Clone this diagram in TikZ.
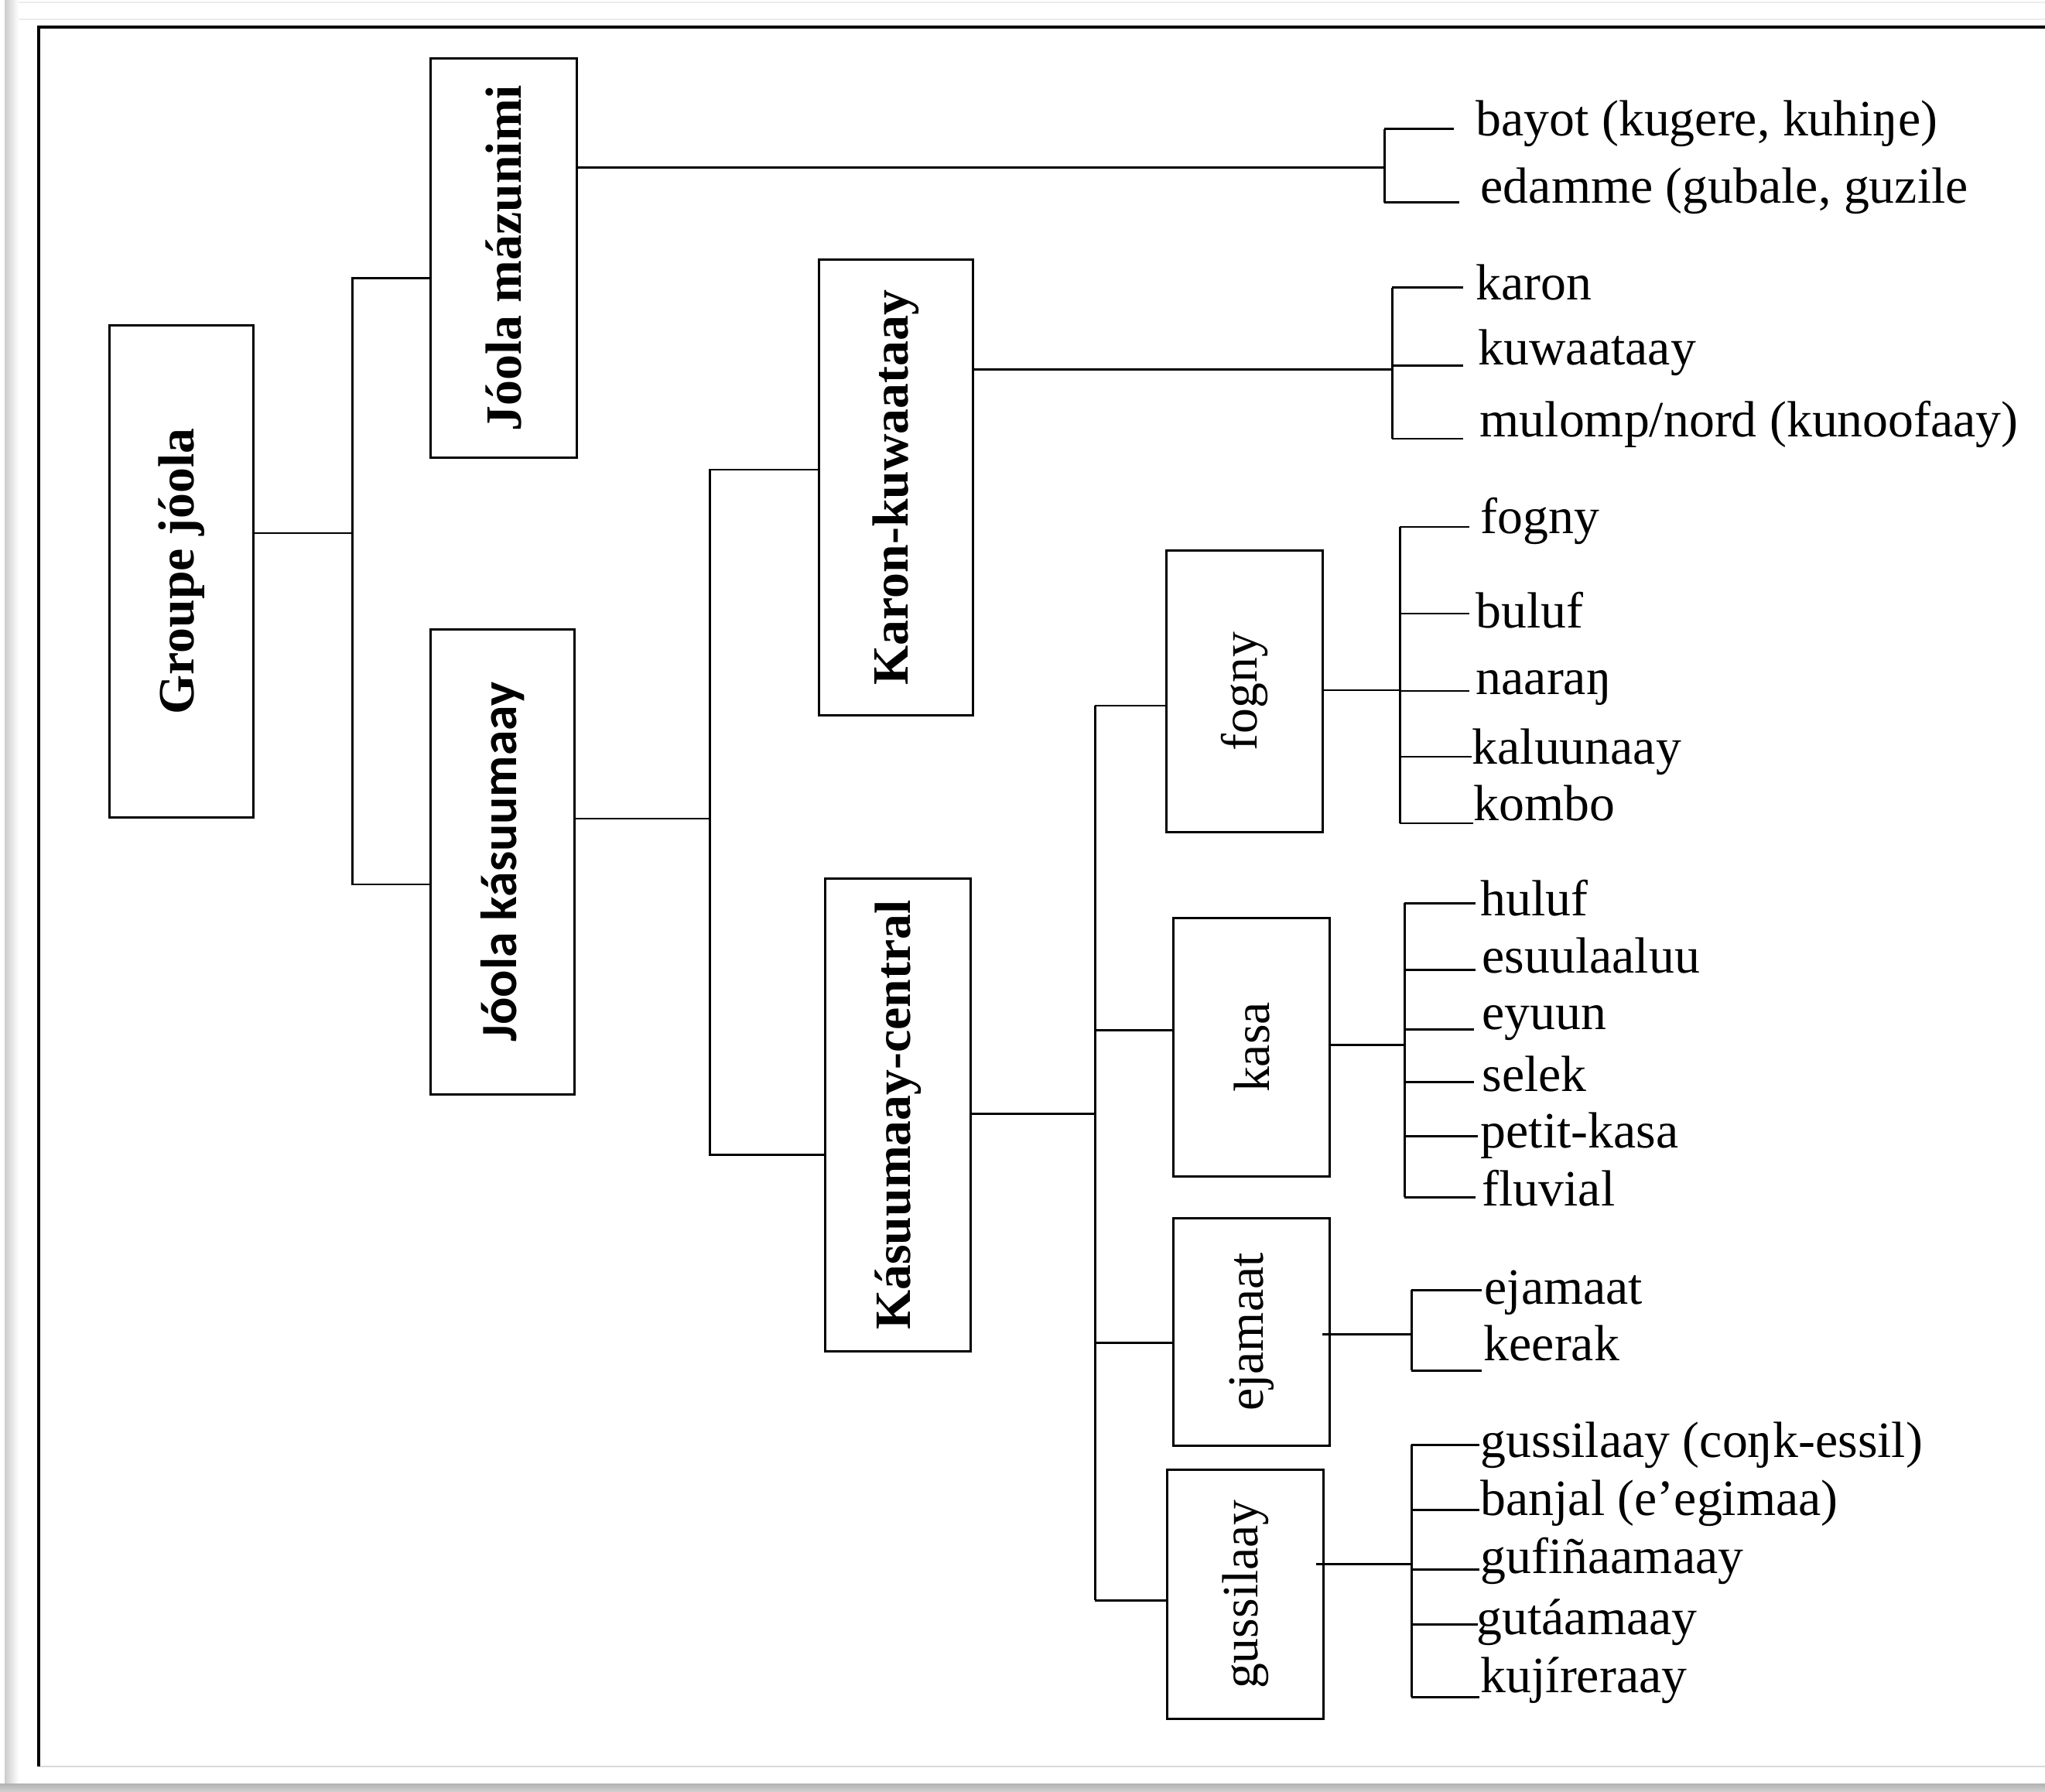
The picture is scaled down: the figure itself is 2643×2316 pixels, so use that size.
\documentclass[tikz,border=0pt]{standalone}
\usepackage{fontspec}
\setmainfont{Liberation Serif}
\newfontfamily\carl{Carlito}
\newcommand\myleaf[7]{%
  \node[leaf] (#1) at (#2,#3) {#7};
  \coordinate (#1-b) at (#4,#5);
  \draw[conn, shorten >={(#2-#6)*0.01cm}] (#1-b) -- (#1.west |- #1-b);
}
\begin{document}
\begin{tikzpicture}[x=0.01cm,y=-0.01cm,
  box/.style={draw, line width=0.85pt, inner sep=0pt, fill=white, font=\fontsize{18.7}{22}\selectfont},
  leaf/.style={anchor=base west, inner sep=0pt, font=\fontsize{18.7}{22}\selectfont},
  conn/.style={line width=0.85pt},
  frameline/.style={line width=1.1pt}
]
\useasboundingbox (0,0) rectangle (2643,2316);
% page and shadows
\fill[white] (0,0) rectangle (2643,2316);
\shade[left color=gray!40, right color=white] (6,0) rectangle (24,2305);
\shade[top color=gray!60, bottom color=gray!35] (0,2305) rectangle (2643,2316);
\draw[gray!15, line width=0.4pt] (24,3) -- (2643,3);
\draw[gray!15, line width=0.4pt] (24,25) -- (2643,25);
\draw[gray!30, line width=0.5pt] (50,2283) -- (2643,2283);
\draw[frameline] (2643,35) -- (50,35) -- (50,2283);

% boxes
\node[box, minimum width=1.85cm, minimum height=6.35cm] (groupe) at (234.5,738.5) {\rotatebox{90}{\bfseries Groupe jóola}};
\node[box, minimum width=1.88cm, minimum height=5.15cm] (maz) at (651,333.5) {\rotatebox{90}{\bfseries Jóola mázunimi}};
\node[box, minimum width=1.85cm, minimum height=6.00cm] (kas) at (649.5,1114) {\rotatebox{90}{\carl\bfseries Jóola kásuumaay}};
\node[box, minimum width=1.98cm, minimum height=5.88cm] (karon) at (1158,630) {\rotatebox{90}{\bfseries Karon-kuwaataay}};
\node[box, minimum width=1.87cm, minimum height=6.10cm] (central) at (1160.5,1441) {\rotatebox{90}{\bfseries Kásuumaay-central}};
\node[box, minimum width=2.01cm, minimum height=3.63cm] (fogny) at (1608.5,893.5) {\rotatebox{90}{fogny}};
\node[box, minimum width=2.01cm, minimum height=3.33cm] (kasa) at (1617.5,1353.5) {\rotatebox{90}{kasa}};
\node[box, minimum width=2.01cm, minimum height=2.93cm] (ejamaat) at (1617.5,1721.5) {\rotatebox{90}{ejamaat}};
\node[box, minimum width=2.01cm, minimum height=3.21cm] (guss) at (1609.5,2060.5) {\rotatebox{90}{gussilaay}};

% level 1
\coordinate (j1) at (455,689);
\coordinate (j1t) at (455,360);
\coordinate (j1b) at (455,1143);
\draw[conn] (groupe.east |- j1) -- (j1);
\draw[conn] (maz.west |- j1t) -- (j1t) -- (j1b) -- (kas.west |- j1b);

% level 2 (kasuumaay)
\coordinate (j2) at (917,1058);
\coordinate (j2t) at (917,607);
\coordinate (j2b) at (917,1492);
\draw[conn] (kas.east |- j2) -- (j2);
\draw[conn] (karon.west |- j2t) -- (j2t) -- (j2b) -- (central.west |- j2b);

% level 3 (central)
\coordinate (j3) at (1415,1439);
\coordinate (j3a) at (1415,912);
\coordinate (j3b) at (1415,1331);
\coordinate (j3c) at (1415,1735);
\coordinate (j3d) at (1415,2068);
\draw[conn] (central.east |- j3) -- (j3);
\draw[conn] (j3a) -- (j3d);
\draw[conn] (j3a) -- (fogny.west |- j3a);
\draw[conn] (j3b) -- (kasa.west |- j3b);
\draw[conn] (j3c) -- (ejamaat.west |- j3c);
\draw[conn] (j3d) -- (guss.west |- j3d);

% mazunimi leaves
\coordinate (mzj) at (1789,217);
\draw[conn] (maz.east |- mzj) -- (mzj);
\myleaf{bayot}{1907}{176}{1789}{167}{1879}{bayot (kugere, kuhiŋe)}
\myleaf{edamme}{1913}{263}{1789}{262}{1886}{edamme (gubale, guzile}
\draw[conn] (bayot-b) -- (edamme-b);

% karon leaves
\coordinate (krj) at (1799,478);
\draw[conn] (karon.east |- krj) -- (krj);
\myleaf{karonl}{1907}{388}{1799}{372}{1891}{karon}
\myleaf{kuwa}{1910}{472}{1799}{473}{1891}{kuwaataay}
\myleaf{mulomp}{1912}{565}{1799}{567}{1891}{mulomp/nord (kunoofaay)}
\draw[conn] (karonl-b) -- (mulomp-b);

% fogny leaves
\coordinate (fgj) at (1809,892);
\draw[conn] (fogny.east |- fgj) -- (fgj);
\myleaf{fognyl}{1913}{690}{1809}{681}{1899}{fogny}
\myleaf{buluf}{1907}{812}{1809}{793}{1899}{buluf}
\myleaf{naaran}{1907}{897}{1809}{893}{1899}{naaraŋ}
\myleaf{kaluu}{1902}{987}{1809}{978}{1902}{kaluunaay}
\myleaf{kombo}{1904}{1060}{1809}{1064}{1904}{kombo}
\draw[conn] (fognyl-b) -- (kombo-b);

% kasa leaves
\coordinate (ksj) at (1815,1350);
\draw[conn] (kasa.east |- ksj) -- (ksj);
\myleaf{huluf}{1913}{1183}{1815}{1167}{1907}{huluf}
\myleaf{esuu}{1915}{1257}{1815}{1253}{1907}{esuulaaluu}
\myleaf{eyuun}{1915}{1330}{1815}{1330}{1905}{eyuun}
\myleaf{selek}{1915}{1410}{1815}{1398}{1905}{selek}
\myleaf{petit}{1913}{1483}{1815}{1468}{1910}{petit-kasa}
\myleaf{fluvial}{1915}{1558}{1815}{1547}{1907}{fluvial}
\draw[conn] (huluf-b) -- (fluvial-b);

% ejamaat leaves
\coordinate (ejj) at (1824,1724);
\draw[conn] ([xshift=-0.11cm]ejamaat.east |- ejj) -- (ejj);
\myleaf{ejamaatl}{1918}{1685}{1824}{1667}{1915}{ejamaat}
\myleaf{keerak}{1917}{1758}{1824}{1771}{1915}{keerak}
\draw[conn] (ejamaatl-b) -- (keerak-b);

% gussilaay leaves
\coordinate (gsj) at (1824,2021);
\draw[conn] ([xshift=-0.11cm]guss.east |- gsj) -- (gsj);
\myleaf{gussl}{1913}{1883}{1824}{1867}{1912}{gussilaay (coŋk-essil)}
\myleaf{banjal}{1913}{1958}{1824}{1951}{1912}{banjal (e’egimaa)}
\myleaf{gufi}{1913}{2033}{1824}{2028}{1912}{gufiñaamaay}
\myleaf{guta}{1908}{2112}{1824}{2099}{1910}{gutáamaay}
\myleaf{kujir}{1913}{2187}{1824}{2193}{1912}{kujíreraay}
\draw[conn] (gussl-b) -- (kujir-b);
\end{tikzpicture}
\end{document}
